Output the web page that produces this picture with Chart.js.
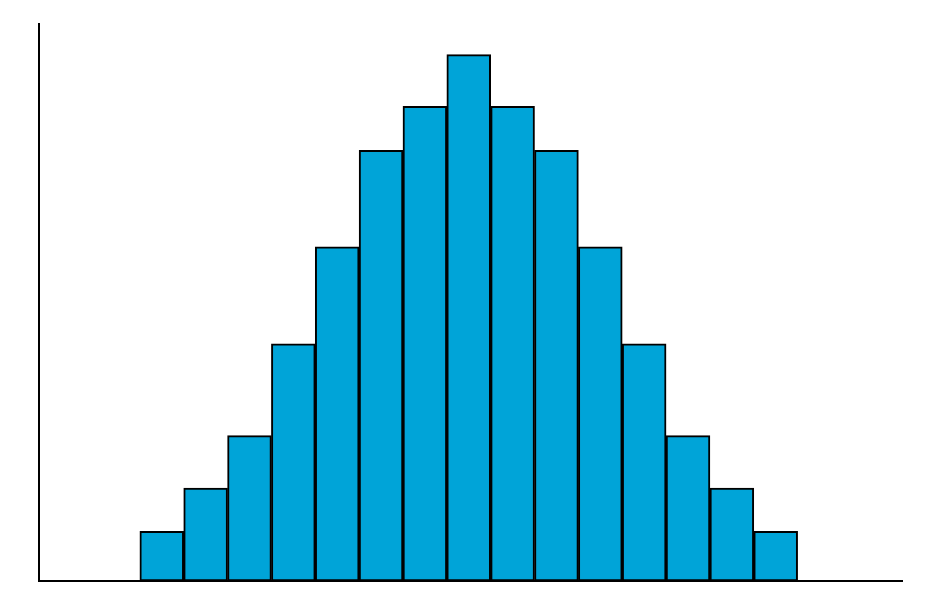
<!DOCTYPE html>
<html>
<head>
<meta charset="utf-8">
<script src="https://cdn.jsdelivr.net/npm/chart.js@4"></script>
<style>
  html, body { margin: 0; padding: 0; background: #fff; }
  #wrap { width: 948px; height: 592px; }
</style>
</head>
<body>
<div id="wrap"><canvas id="histChart"></canvas></div>
<script>
// bin index and bar heights (axis runs 0..100)
var bins = [1, 2, 3, 4, 5, 6, 7, 8, 9, 10, 11, 12, 13, 14, 15];
var counts = [8.9, 16.7, 26.1, 42.6, 60, 77.3, 85.2, 94.5, 85.2, 77.3, 60, 42.6, 26.1, 16.7, 8.9];

document.addEventListener('DOMContentLoaded', function() {
    var ctx = document.getElementById('histChart').getContext('2d');

    var points = bins.map(function(b, i) {
        return { x: b, y: counts[i] };
    });

    var histChart = new Chart(ctx, {
        type: 'bar',
        data: {
            datasets: [{
                data: points,
                backgroundColor: '#00a4d8',
                borderColor: '#000000',
                borderWidth: 2,
                borderSkipped: false,
                barPercentage: 1.0,
                categoryPercentage: 1.0
            }]
        },
        options: {
            responsive: true,
            maintainAspectRatio: false,
            animation: false,
            layout: {
                padding: { left: 39, top: 24, right: 46, bottom: 11 }
            },
            plugins: {
                legend: { display: false },
                tooltip: { enabled: false }
            },
            scales: {
                x: {
                    type: 'linear',
                    min: -1.8,
                    max: 17.88,
                    offset: false,
                    grid: { display: false, drawTicks: false },
                    border: { display: true, color: '#000', width: 2 },
                    ticks: { display: false }
                },
                y: {
                    min: 0,
                    max: 100,
                    grid: { display: false, drawTicks: false },
                    border: { display: true, color: '#000', width: 2 },
                    ticks: { display: false }
                }
            }
        }
    });
});
</script>
</body>
</html>
